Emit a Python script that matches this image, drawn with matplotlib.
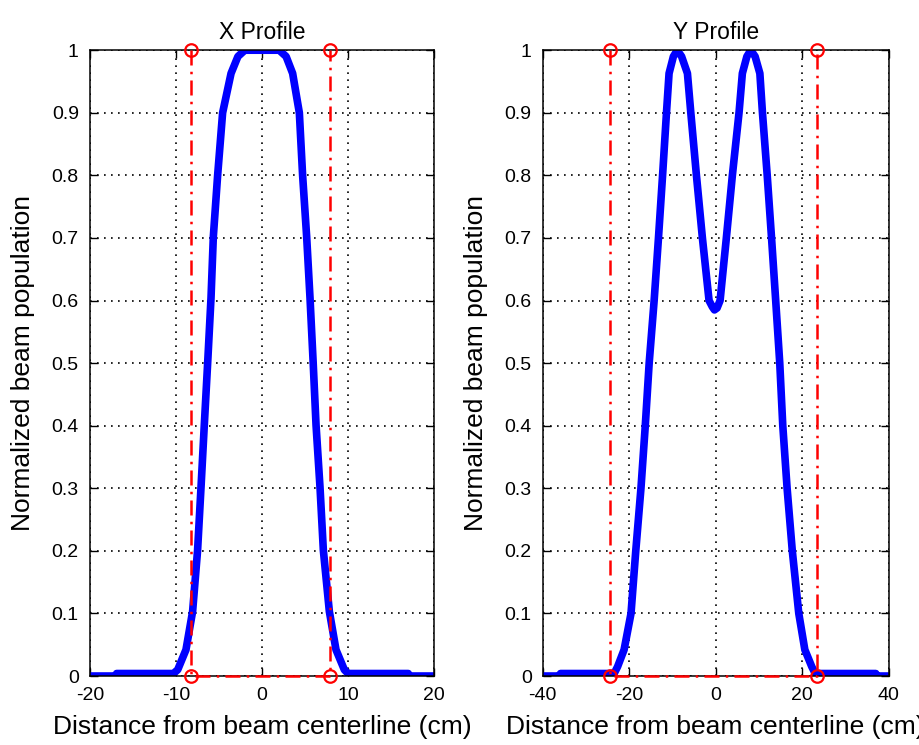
import matplotlib
matplotlib.use("Agg")
import matplotlib.pyplot as plt

plt.rcParams['font.family'] = ['Liberation Sans', 'DejaVu Sans']

# --- data ---
x_pos = [-20, -17, -16.9, -10.3, -9.8, -8.84, -8.07, -7.49, -7.09, -6.71, -6.32,
         -5.93, -5.66, -5.16, -4.58, -3.6, -2.8, -2.0, 2.0, 2.8, 3.56, 4.34, 4.72,
         5.19, 5.58, 5.95, 6.28, 6.74, 7.13, 7.83, 8.6, 9.57, 10.0, 17, 17.1, 20]
x_pop = [0, 0, 0.004, 0.004, 0.01, 0.042, 0.103, 0.201, 0.302, 0.401, 0.5,
         0.604, 0.702, 0.8, 0.9, 0.963, 0.99, 1, 1, 0.99, 0.963, 0.9, 0.8,
         0.702, 0.604, 0.5, 0.401, 0.302, 0.201, 0.103, 0.042, 0.01, 0.004, 0.004, 0, 0]

y_pos = [-40, -36, -35.9, -23.5, -22.7, -21.2, -19.6, -18.5, -17.3, -16.3, -15.4,
         -14.25, -13.25, -12.3, -11.4, -10.8, -9.8, -8.9, -7.9, -6.55, -5.77, -4.47, -3.09,
         -1.55, -0.8, -0.3, 0.3, 1.0, 2.45, 3.84, 5.38, 6.15, 7.2, 8.1, 9.1, 10.2, 10.8,
         11.9, 12.9, 13.86, 14.8, 15.5, 16.5, 17.7, 19.2, 20.6, 22.2, 23.0, 37, 37.1, 40]
y_pop = [0, 0, 0.004, 0.004, 0.015, 0.042, 0.1, 0.2, 0.3, 0.4, 0.5,
         0.6, 0.7, 0.8, 0.9, 0.963, 0.99, 1.0, 0.99, 0.963, 0.9, 0.8, 0.7,
         0.6, 0.59, 0.585, 0.588, 0.6, 0.7, 0.8, 0.9, 0.963, 0.99, 1.0, 0.99, 0.963, 0.9,
         0.8, 0.7, 0.6, 0.5, 0.4, 0.3, 0.2, 0.1, 0.042, 0.015, 0.004, 0.004, 0, 0]

# aperture boxes (red dash-dot)
x_box = [-8.25, -8.25, 7.85, 7.85]
y_box = [-24.5, -24.5, 23.5, 23.5]
box_h = [1, 0, 0, 1]

x_ticks = [-20, -10, 0, 10, 20]
y_ticks_pos = [-40, -20, 0, 20, 40]
pop_ticks = [i / 10 for i in range(11)]

fig = plt.figure(figsize=(9.2, 7.45), dpi=100)
ax1 = fig.add_axes([0.0978, 0.0926, 0.374, 0.840])
ax2 = fig.add_axes([0.590, 0.0926, 0.376, 0.840])

panels = [
    (ax1, x_pos, x_pop, x_box, 'X Profile', (-20, 20), x_ticks),
    (ax2, y_pos, y_pop, y_box, 'Y Profile', (-40, 40), y_ticks_pos),
]

for ax, pos, pop, box, title, xlim, xt in panels:
    ax.plot(pos, pop, color='#0000ff', lw=5.5, solid_joinstyle='round')
    ax.plot(box, box_h, color='#ff0000', lw=1.8, linestyle='-.', dashes=(6, 2.5, 1, 2.5),
            marker='o', markersize=9, markerfacecolor='none', markeredgewidth=1.6,
            clip_on=False, zorder=5)
    ax.set_xlim(*xlim)
    ax.set_ylim(0, 1)
    ax.set_xticks(xt)
    ax.set_xticklabels([str(v) for v in xt])  # plain hyphen like MATLAB
    ax.set_yticks(pop_ticks)
    ax.set_yticklabels(['0'] + ['%.1f' % v for v in pop_ticks[1:-1]] + ['1'])
    ax.grid(True, color='black', linestyle=(0, (1, 3.2)), lw=1.2)
    ax.tick_params(direction='in', length=6, width=1, top=True, right=True,
                   labelsize=14, pad=8)
    for s in ax.spines.values():
        s.set_linewidth(1.1)
    ax.set_title(title, fontsize=16.5, pad=8)
    ax.set_xlabel('Distance from beam centerline (cm)', fontsize=19, labelpad=8)
    ax.set_ylabel('Normalized beam population', fontsize=19, labelpad=12)

fig.savefig('out.png', dpi=100)
